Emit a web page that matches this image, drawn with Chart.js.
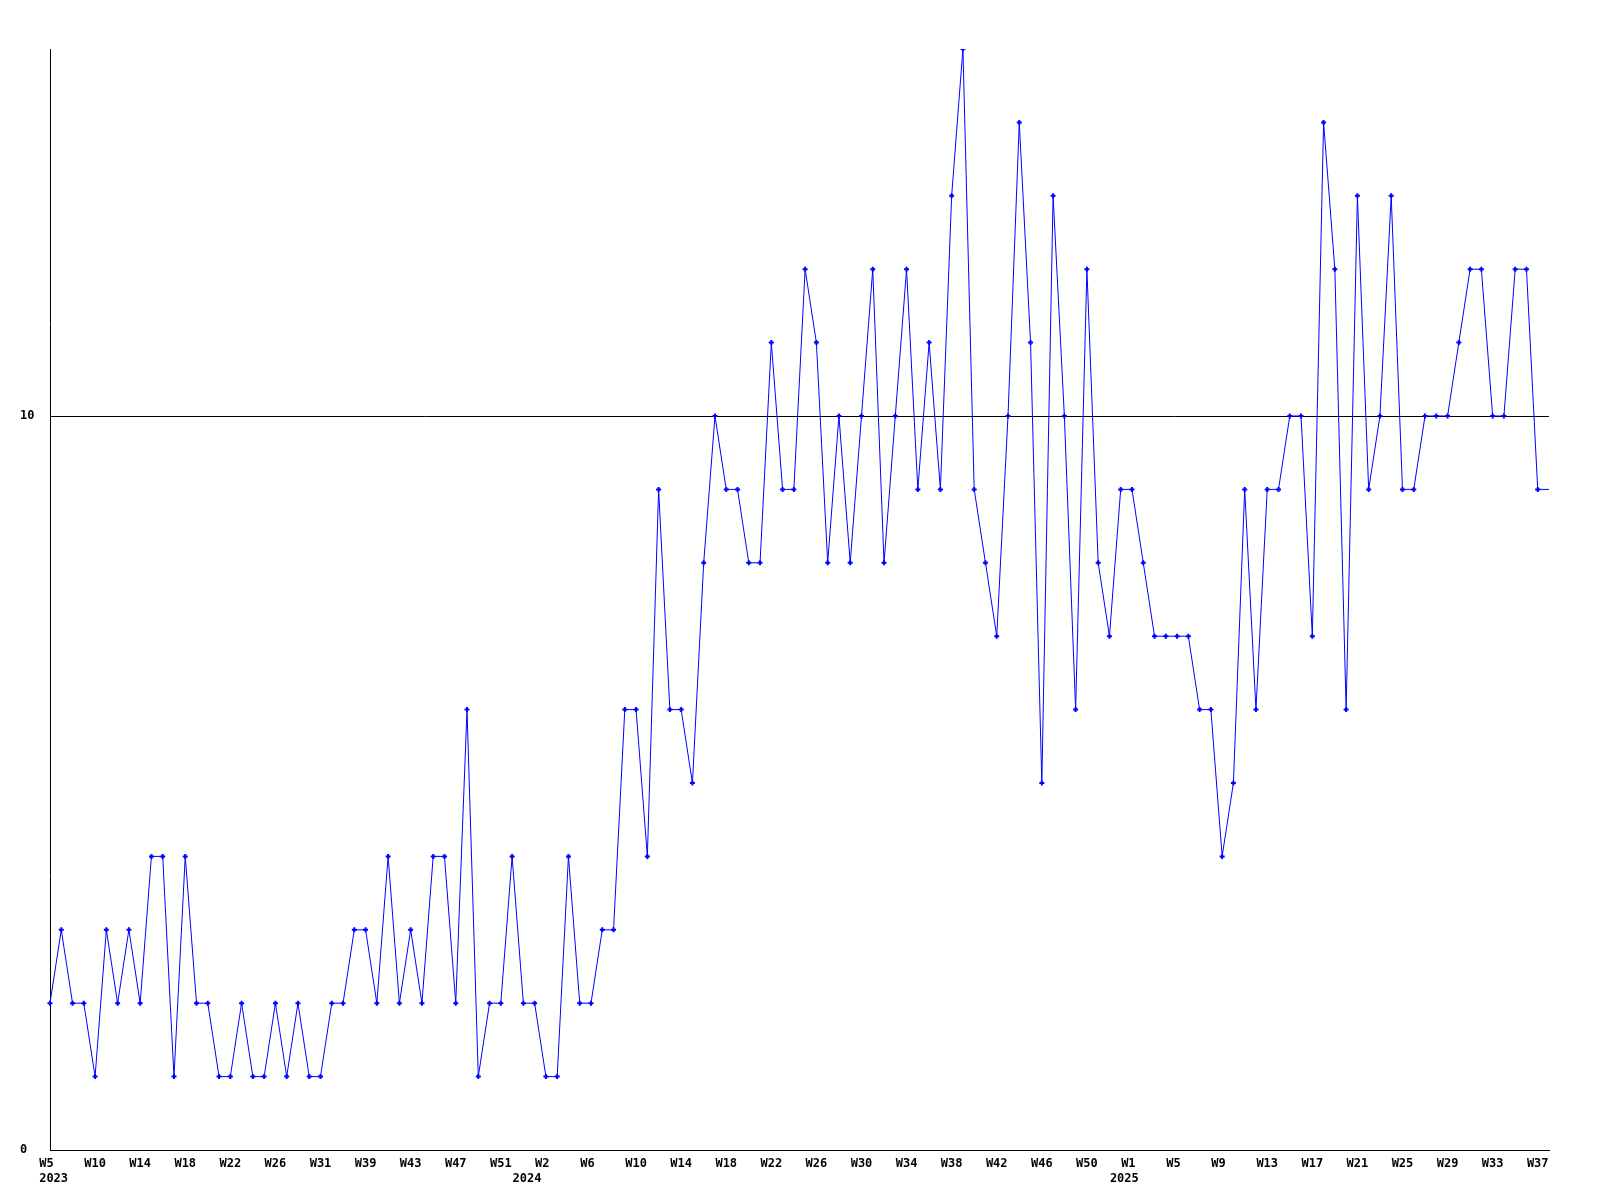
<!DOCTYPE html>
<html>
<head>
<meta charset="utf-8">
<script src="https://cdn.jsdelivr.net/npm/chart.js@4"></script>
<style>
  html, body { margin: 0; padding: 0; background: #fff; }
  #wrap { width: 1600px; height: 1200px; }
</style>
</head>
<body>
<div id="wrap"><canvas id="myChart" width="1600" height="1200"></canvas></div>
<script>
// week numbers present in the data, per year
const weeks2023 = [5, 6, 7, 8, 10, 11, 12, 13, 14, 15, 16, 17, 18, 19, 20, 21, 22, 23, 24, 25, 26, 27, 28, 29, 31,
  36, 37, 38, 39, 40, 41, 42, 43, 44, 45, 46, 47, 48, 49, 50, 51, 52];
const weeks2024 = [0, 1, 2, 3, 4, 5, 6, 7, 8, 9, 10, 11, 12, 13, 14, 15, 16, 17, 18, 19, 20, 21, 22, 23, 24, 25, 26,
  27, 28, 29, 30, 31, 32, 33, 34, 35, 36, 37, 38, 39, 40, 41, 42, 43, 44, 45, 46, 47, 48, 49, 50, 51, 52];
const weeks2025 = [0, 1, 2, 3, 4, 5, 6, 7, 8, 9, 10, 11, 12, 13, 14, 15, 16, 17, 18, 19, 20, 21, 22, 23, 24, 25, 26,
  27, 28, 29, 30, 31, 32, 33, 34, 35, 36, 37, 38];

const counts = [
  2, 3, 2, 2, 1, 3, 2, 3, 2, 4,
  4, 1, 4, 2, 2, 1, 1, 2, 1, 1,
  2, 1, 2, 1, 1, 2, 2, 3, 3, 2,
  4, 2, 3, 2, 4, 4, 2, 6, 1, 2,
  2, 4, 2, 2, 1, 1, 4, 2, 2, 3,
  3, 6, 6, 4, 9, 6, 6, 5, 8, 10,
  9, 9, 8, 8, 11, 9, 9, 12, 11, 8,
  10, 8, 10, 12, 8, 10, 12, 9, 11, 9,
  13, 15, 9, 8, 7, 10, 14, 11, 5, 13,
  10, 6, 12, 8, 7, 9, 9, 8, 7, 7,
  7, 7, 6, 6, 4, 5, 9, 6, 9, 9,
  10, 10, 7, 14, 12, 6, 13, 9, 10, 13,
  9, 9, 10, 10, 10, 11, 12, 12, 10, 10,
  12, 12, 9, 9
];

const yTicks = [0, 10];
const labelEvery = 4;

const labels = [];
const years = [];
[[2023, weeks2023], [2024, weeks2024], [2025, weeks2025]].forEach(([yr, wks]) => {
  wks.forEach(w => { labels.push('W' + w); years.push(yr); });
});

const font = { family: '"DejaVu Sans Mono", monospace', size: 12, weight: 'bold', lineHeight: 1.25 };

// week label every 4th point, year under the first point of each year
function tickLabel(index) {
  let week = '';
  if (index % labelEvery === 0) {
    week = labels[index];
    while (week.length < 3) week += ' ';
  }
  const newYear = index === 0 || years[index - 1] !== years[index];
  if (newYear) return [week, ' ' + years[index]];
  return week || null;
}

new Chart(document.getElementById('myChart'), {
  type: 'line',
  data: {
    labels: labels,
    datasets: [{
      data: counts,
      borderColor: '#0000ff',
      backgroundColor: '#0000ff',
      borderWidth: 1,
      tension: 0,
      pointStyle: 'cross',
      pointRadius: ctx => ctx.dataIndex === counts.length - 1 ? 0 : 2.5,
      pointBorderWidth: 2,
      pointBorderColor: '#0000ff'
    }]
  },
  options: {
    responsive: false,
    animation: false,
    layout: { padding: { left: 20, top: 49, right: 51, bottom: 0 } },
    plugins: { legend: { display: false }, tooltip: { enabled: false } },
    scales: {
      x: {
        grid: { display: false, drawTicks: false },
        border: { display: true, color: '#000', width: 1 },
        ticks: {
          autoSkip: false,
          maxRotation: 0,
          padding: 6,
          color: '#000',
          font: font,
          callback: (val, index) => tickLabel(index)
        },
        afterFit: scale => { scale.height = 50; }
      },
      y: {
        min: 0,
        max: 15,
        afterBuildTicks: axis => { axis.ticks = yTicks.map(v => ({ value: v })); },
        grid: {
          drawTicks: false,
          color: ctx => (ctx.tick && ctx.tick.value === 10) ? '#000' : 'rgba(0,0,0,0)',
          lineWidth: 1
        },
        border: { display: true, color: '#000', width: 1 },
        ticks: {
          crossAlign: 'far',
          color: '#000',
          font: font,
          padding: 0
        },
        afterFit: scale => { scale.width = 30; }
      }
    }
  }
});
</script>
</body>
</html>
